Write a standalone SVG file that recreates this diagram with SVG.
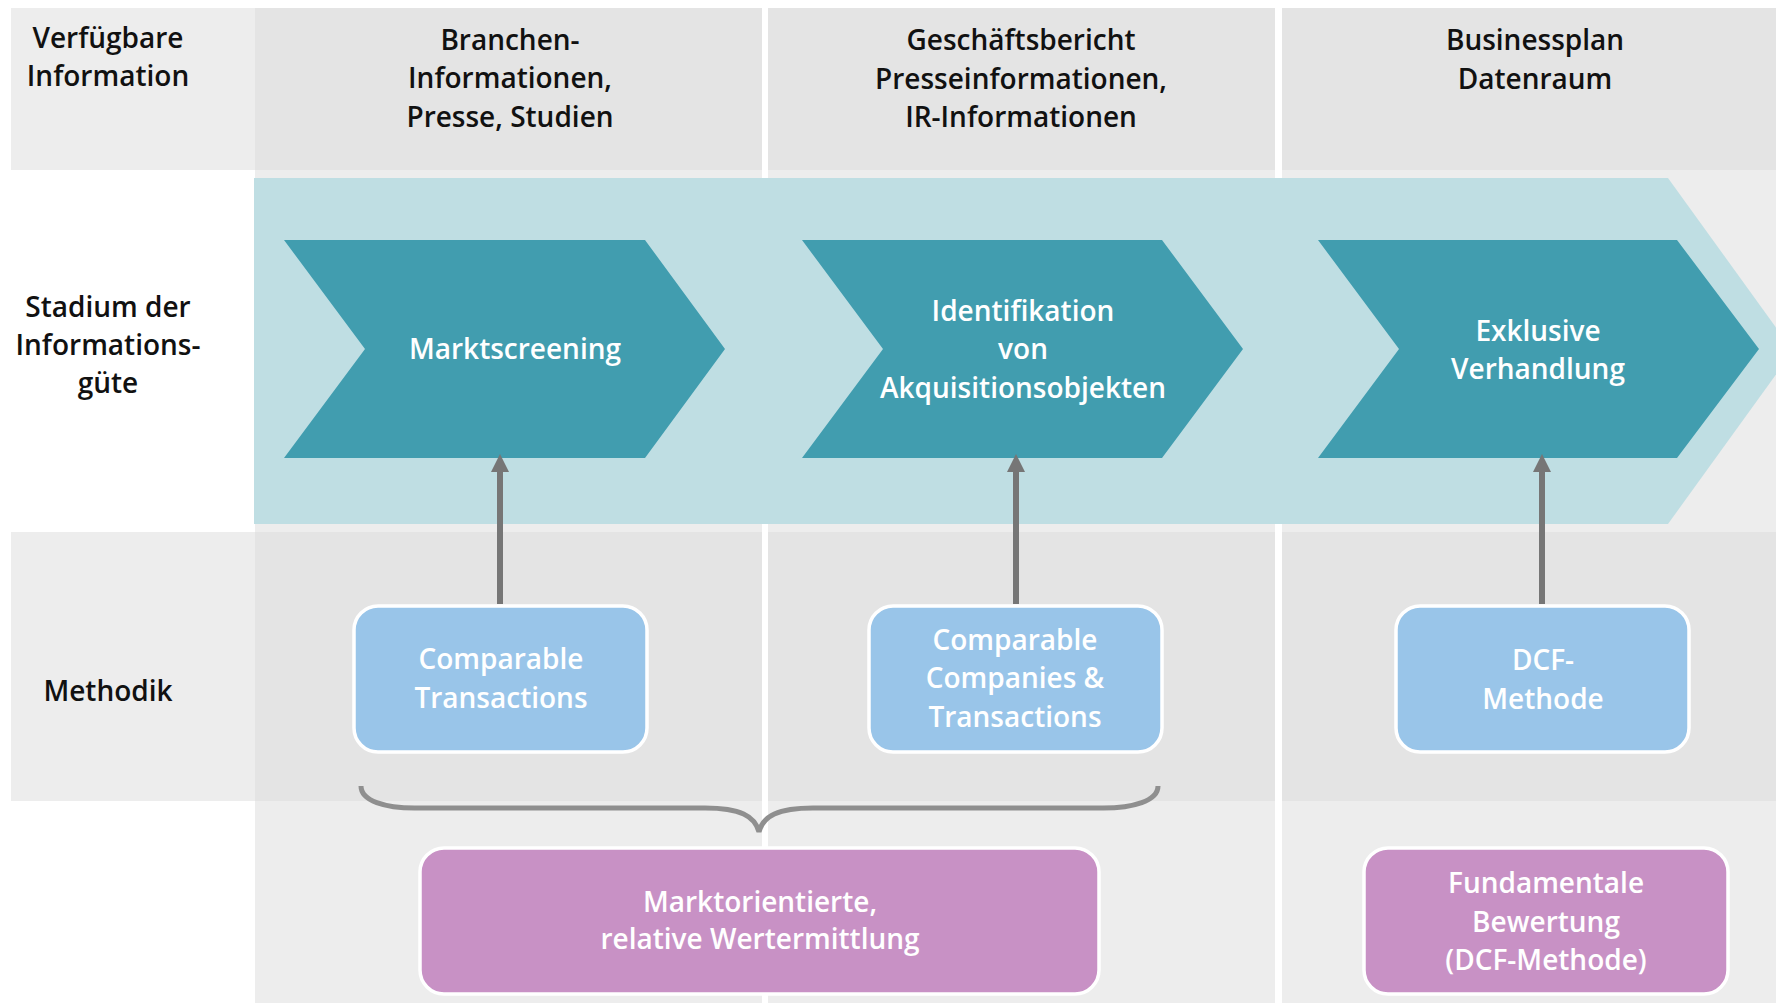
<svg xmlns="http://www.w3.org/2000/svg" width="1776" height="1003" viewBox="0 0 1776 1003">
  <style>
    .lbl { font-family: "Open Sans", "Liberation Sans", sans-serif; font-weight: 600; font-size: 28px; fill: #111111; text-anchor: middle; }
    .wht { font-family: "Open Sans", "Liberation Sans", sans-serif; font-weight: 600; font-size: 28px; fill: #FFFFFF; text-anchor: middle; }
    .dark { fill: #E4E4E4; }
    .light { fill: #EDEDED; }
    .chev { fill: #419DAF; }
    .method { fill: #99C5E9; stroke: #FFFFFF; stroke-width: 3.5; }
    .result { fill: #C891C5; stroke: #FFFFFF; stroke-width: 3.5; }
    .link { stroke: #767676; stroke-width: 6; fill: none; }
  </style>
  <defs>
    <marker id="head" markerUnits="userSpaceOnUse" markerWidth="18" markerHeight="18" viewBox="0 0 18 18" refX="0" refY="9" orient="auto">
      <path d="M0,0 L18,9 L0,18 Z" fill="#767676"/>
    </marker>
  </defs>

  <rect x="0" y="0" width="1776" height="1003" fill="#FFFFFF"/>

  <!-- grid: label column and three information columns -->
  <g id="grid">
    <rect class="light" x="11" y="8" width="244" height="162"/>
    <rect class="light" x="11" y="532" width="244" height="269"/>

    <rect class="dark" x="255" y="8" width="507" height="162"/>
    <rect class="light" x="255" y="170" width="507" height="362"/>
    <rect class="dark" x="255" y="532" width="507" height="269"/>
    <rect class="light" x="255" y="801" width="507" height="202"/>

    <rect class="dark" x="768" y="8" width="507" height="162"/>
    <rect class="light" x="768" y="170" width="507" height="362"/>
    <rect class="dark" x="768" y="532" width="507" height="269"/>
    <rect class="light" x="768" y="801" width="507" height="202"/>

    <rect class="dark" x="1282" y="8" width="494" height="162"/>
    <rect class="light" x="1282" y="170" width="494" height="362"/>
    <rect class="dark" x="1282" y="532" width="494" height="269"/>
    <rect class="light" x="1282" y="801" width="494" height="202"/>
  </g>

  <!-- row labels -->
  <g id="row-labels">
    <text class="lbl" x="108" y="48">Verfügbare</text>
    <text class="lbl" x="108" y="86">Information</text>
    <text class="lbl" x="108" y="317">Stadium der</text>
    <text class="lbl" x="108" y="355">Informations-</text>
    <text class="lbl" x="108" y="393">güte</text>
    <text class="lbl" x="108" y="701">Methodik</text>
  </g>

  <!-- column headers -->
  <g id="header-1">
    <text class="lbl" x="510" y="50">Branchen-</text>
    <text class="lbl" x="510" y="88">Informationen,</text>
    <text class="lbl" x="510" y="127">Presse, Studien</text>
  </g>
  <g id="header-2">
    <text class="lbl" x="1021" y="50">Geschäftsbericht</text>
    <text class="lbl" x="1021" y="89">Presseinformationen,</text>
    <text class="lbl" x="1021" y="127">IR-Informationen</text>
  </g>
  <g id="header-3">
    <text class="lbl" x="1535" y="50">Businessplan</text>
    <text class="lbl" x="1535" y="89">Datenraum</text>
  </g>

  <!-- background process arrow -->
  <g id="process-band">
    <polygon points="254,178 1668,178 1793,351 1668,524 254,524" fill="#BFDEE3"/>
  </g>

  <!-- process stages -->
  <g id="stage-1">
    <polygon class="chev" points="284,240 645,240 725,349 645,458 284,458 365,349"/>
    <text class="wht" x="515" y="359" font-size="29">Marktscreening</text>
  </g>
  <g id="stage-2">
    <polygon class="chev" points="802,240 1162,240 1243,349 1162,458 802,458 883,349"/>
    <text class="wht" x="1023" y="321">Identifikation</text>
    <text class="wht" x="1023" y="359">von</text>
    <text class="wht" x="1023" y="398">Akquisitionsobjekten</text>
  </g>
  <g id="stage-3">
    <polygon class="chev" points="1318,240 1677,240 1759,349 1677,458 1318,458 1399,349"/>
    <text class="wht" x="1538" y="341">Exklusive</text>
    <text class="wht" x="1538" y="379">Verhandlung</text>
  </g>

  <!-- methods -->
  <g id="method-1">
    <rect class="method" x="354" y="606" width="293" height="146" rx="24"/>
    <text class="wht" x="501" y="669">Comparable</text>
    <text class="wht" x="501" y="708">Transactions</text>
  </g>
  <g id="method-2">
    <rect class="method" x="869" y="606" width="293" height="146" rx="24"/>
    <text class="wht" x="1015" y="650">Comparable</text>
    <text class="wht" x="1015" y="688">Companies &amp;</text>
    <text class="wht" x="1015" y="727">Transactions</text>
  </g>
  <g id="method-3">
    <rect class="method" x="1396" y="606" width="293" height="146" rx="24"/>
    <text class="wht" x="1543" y="670">DCF-</text>
    <text class="wht" x="1543" y="709">Methode</text>
  </g>

  <!-- valuation approaches -->
  <g id="result-1">
    <rect class="result" x="420" y="848" width="679" height="146" rx="24"/>
    <text class="wht" x="760" y="912">Marktorientierte,</text>
    <text class="wht" x="760" y="949">relative Wertermittlung</text>
  </g>
  <g id="result-2">
    <rect class="result" x="1364" y="848" width="364" height="146" rx="24"/>
    <text class="wht" x="1546" y="893">Fundamentale</text>
    <text class="wht" x="1546" y="932">Bewertung</text>
    <text class="wht" x="1546" y="970">(DCF-Methode)</text>
  </g>

  <!-- connectors -->
  <g id="connectors">
    <line class="link" x1="500" y1="604" x2="500" y2="472" marker-end="url(#head)"/>
    <line class="link" x1="1016" y1="604" x2="1016" y2="472" marker-end="url(#head)"/>
    <line class="link" x1="1542" y1="604" x2="1542" y2="472" marker-end="url(#head)"/>
    <path d="M361,786 C361,801 385,808 415,808 L705,808 C740,808 755,816 759,832 C763,816 778,808 813,808 L1103,808 C1133,808 1158,801 1158,786" fill="none" stroke="#8F8F8F" stroke-width="5"/>
  </g>
</svg>
